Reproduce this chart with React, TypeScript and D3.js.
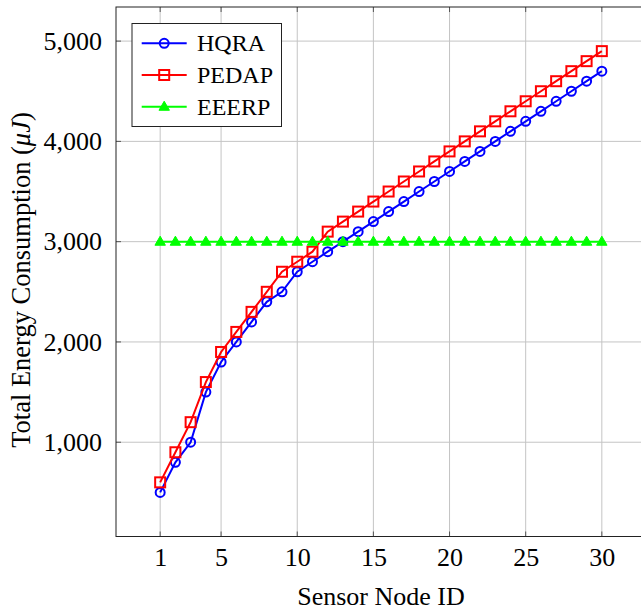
import { useEffect, useRef } from "react";
import * as d3 from "d3";

const nodeIds = d3.range(1, 31);
const hqra = [
  500, 800, 1000, 1500, 1800, 2000, 2200, 2400, 2500, 2700, 2800, 2900, 3000, 3100, 3200,
  3300, 3400, 3500, 3600, 3700, 3800, 3900, 4000, 4100, 4200, 4300, 4400, 4500, 4600, 4700,
];
const pedap = [
  600, 900, 1200, 1600, 1900, 2100, 2300, 2500, 2700, 2800, 2900, 3100, 3200, 3300, 3400,
  3500, 3600, 3700, 3800, 3900, 4000, 4100, 4200, 4300, 4400, 4500, 4600, 4700, 4800, 4900,
];
const eeerp = nodeIds.map(() => 3000);
const xTicks = [1, 5, 10, 15, 20, 25, 30];
const yTicks = [1000, 2000, 3000, 4000, 5000];

const W = 641;
const H = 611;
const left = 116;
const right = 646;
const top = 7;
const bottom = 536.5;
const font = "'Liberation Serif', 'Times New Roman', serif";

export default function App() {
  const gx = useRef<SVGGElement>(null);
  const gy = useRef<SVGGElement>(null);

  const x = d3.scaleLinear().domain([-1.9, 32.9]).range([left, right]);
  const y = d3.scaleLinear().domain([60, 5340]).range([bottom, top]);

  useEffect(() => {
    const ax = d3.select(gx.current);
    ax.selectAll("*").remove();
    ax.call(d3.axisBottom(x).tickValues(xTicks).tickSize(0).tickPadding(11));
    ax.select(".domain").remove();
    ax.selectAll("text").attr("font-family", font).attr("font-size", 26).attr("fill", "#000");

    const ay = d3.select(gy.current);
    ay.selectAll("*").remove();
    ay.call(d3.axisLeft(y).tickValues(yTicks).tickSize(0).tickPadding(14).tickFormat(d3.format(",")));
    ay.select(".domain").remove();
    ay.selectAll("text").attr("font-family", font).attr("font-size", 26).attr("fill", "#000");
  });

  const line = d3
    .line<number>()
    .x((_, i) => x(nodeIds[i]))
    .y((d) => y(d));

  const series = [
    { name: "HQRA", values: hqra, color: "#0000ff", mark: "circle" },
    { name: "PEDAP", values: pedap, color: "#ff0000", mark: "square" },
    { name: "EEERP", values: eeerp, color: "#00ff00", mark: "triangle" },
  ];

  const marker = (kind: string, cx: number, cy: number, color: string, key: any) => {
    if (kind === "circle")
      return <circle key={key} cx={cx} cy={cy} r={4.5} fill="none" stroke={color} strokeWidth={2} />;
    if (kind === "square")
      return <rect key={key} x={cx - 5} y={cy - 5} width={10} height={10} fill="none" stroke={color} strokeWidth={2} />;
    const s = 5.5;
    return (
      <path
        key={key}
        d={`M${cx},${cy - s}L${cx + s * 0.95},${cy + s * 0.65}L${cx - s * 0.95},${cy + s * 0.65}Z`}
        fill={color}
        stroke={color}
        strokeWidth={1}
      />
    );
  };

  const grid = "#c4c4c4";
  const tickColor = "#555";

  return (
    <svg width={W} height={H} style={{ position: "absolute", left: 0, top: 0, background: "#fff" }}>
      {/* grid */}
      {xTicks.map((t) => (
        <line key={"gx" + t} x1={x(t)} x2={x(t)} y1={top} y2={bottom} stroke={grid} strokeWidth={1} />
      ))}
      {yTicks.map((t) => (
        <line key={"gy" + t} x1={left} x2={right} y1={y(t)} y2={y(t)} stroke={grid} strokeWidth={1} />
      ))}
      {/* inner ticks */}
      {xTicks.map((t) => (
        <g key={"tx" + t}>
          <line x1={x(t)} x2={x(t)} y1={bottom} y2={bottom - 5} stroke={tickColor} />
          <line x1={x(t)} x2={x(t)} y1={top} y2={top + 5} stroke={tickColor} />
        </g>
      ))}
      {yTicks.map((t) => (
        <g key={"ty" + t}>
          <line x1={left} x2={left + 5} y1={y(t)} y2={y(t)} stroke={tickColor} />
          <line x1={right} x2={right - 5} y1={y(t)} y2={y(t)} stroke={tickColor} />
        </g>
      ))}
      {/* series */}
      {series.map((s) => (
        <g key={s.name}>
          <path d={line(s.values) || ""} fill="none" stroke={s.color} strokeWidth={2} />
          {s.values.map((v, i) => marker(s.mark, x(nodeIds[i]), y(v), s.color, i))}
        </g>
      ))}
      {/* frame */}
      <rect x={left} y={top} width={right - left} height={bottom - top} fill="none" stroke="#222" strokeWidth={1} />
      <g ref={gx} transform={`translate(0,${bottom})`} />
      <g ref={gy} transform={`translate(${left},0)`} />
      {/* axis labels */}
      <text x={(left + right) / 2} y={605} textAnchor="middle" fontFamily={font} fontSize={26}>
        Sensor Node ID
      </text>
      <text
        transform={`translate(30,280) rotate(-90)`}
        textAnchor="middle"
        fontFamily={font}
        fontSize={26.5}
      >
        Total Energy Consumption (<tspan fontStyle="italic">μJ</tspan>)
      </text>
      {/* legend */}
      <g>
        <rect x={132} y={23.5} width={149.5} height={103} fill="#fff" stroke="#222" strokeWidth={1} />
        {series.map((s, i) => {
          const ly = 43.3 + i * 31.7;
          return (
            <g key={"lg" + s.name}>
              <line x1={141.7} x2={186.7} y1={ly} y2={ly} stroke={s.color} strokeWidth={2} />
              {marker(s.mark, 164.2, ly, s.color, "m")}
              <text x={197} y={ly + 8} fontFamily={font} fontSize={24}>
                {s.name}
              </text>
            </g>
          );
        })}
      </g>
    </svg>
  );
}
